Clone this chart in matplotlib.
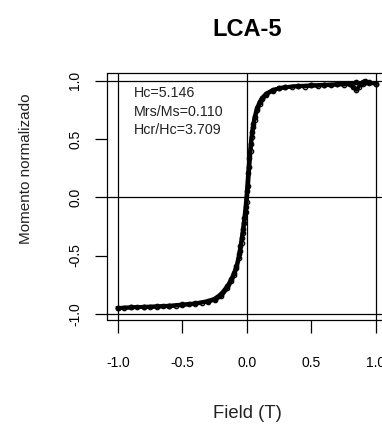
import matplotlib
matplotlib.use("Agg")
import matplotlib.pyplot as plt

plt.rcParams['font.family'] = ['Liberation Sans', 'DejaVu Sans']

# lazo de histeresis normalizado
field_up = [-1.0, -0.95, -0.9, -0.85, -0.8, -0.75, -0.7, -0.65, -0.6, -0.55, -0.5, -0.45,
            -0.4, -0.35, -0.3, -0.25, -0.2, -0.15, -0.12, -0.1,
            -0.08, -0.06, -0.05, -0.04, -0.03, -0.02, -0.01, 0.0, 0.01, 0.02, 0.03, 0.04,
            0.05, 0.06, 0.08, 0.1, 0.12, 0.15, 0.2, 0.25, 0.3, 0.4, 0.5, 0.6, 0.7, 0.8,
            0.85, 0.9, 0.95, 1.0]
mom_up = [-0.95, -0.948, -0.945, -0.942, -0.94, -0.942, -0.94, -0.937, -0.935, -0.93, -0.925,
          -0.92, -0.915, -0.905, -0.895, -0.88, -0.85, -0.78,
          -0.72, -0.67, -0.61, -0.52, -0.46, -0.39, -0.31, -0.22, -0.13, -0.04, 0.10, 0.26,
          0.40, 0.52, 0.60, 0.66, 0.75, 0.80, 0.84, 0.88, 0.915, 0.935, 0.945, 0.955, 0.96,
          0.965, 0.97, 0.975, 0.985, 0.97, 0.98, 0.975]

field_down = [1.0, 0.95, 0.92, 0.9, 0.87, 0.85, 0.82, 0.8, 0.75, 0.7, 0.65, 0.6, 0.55, 0.5,
              0.45, 0.4, 0.35, 0.3, 0.25, 0.2, 0.15,
              0.12, 0.1, 0.08, 0.06, 0.05, 0.04, 0.03, 0.02, 0.01, 0.0, -0.01, -0.02, -0.03,
              -0.04, -0.05, -0.06, -0.08, -0.1, -0.12, -0.15, -0.2, -0.25, -0.3, -0.4, -0.5,
              -0.6, -0.7, -0.8, -0.9, -1.0]
mom_down = [0.975, 0.985, 0.995, 0.99, 0.95, 0.92, 0.95, 0.97, 0.965, 0.97, 0.96, 0.965,
            0.955, 0.96, 0.95, 0.955, 0.948, 0.945, 0.935,
            0.92, 0.89, 0.855, 0.82, 0.77, 0.69, 0.63, 0.56, 0.46, 0.34, 0.21, 0.05, -0.08,
            -0.18, -0.27, -0.35, -0.42, -0.49, -0.59, -0.65, -0.70, -0.76, -0.83, -0.87, -0.89,
            -0.91, -0.92, -0.93, -0.935, -0.94, -0.945, -0.95]

xticks = [-1.0, -0.5, 0.0, 0.5, 1.0]
yticks = [-1.0, -0.5, 0.0, 0.5, 1.0]
stats = ["Hc=5.146", "Mrs/Ms=0.110", "Hcr/Hc=3.709"]

W, H = 382, 425
fig = plt.figure(figsize=(W / 100, H / 100), dpi=100)
# el recuadro se sale por la derecha como en la imagen original
ax = fig.add_axes([107.5 / W, (H - 320) / H, 278.6 / W, 247 / H])

for h in [-1, 0, 1]:
    ax.axhline(h, color='black', lw=0.9, zorder=1)
    ax.axvline(h, color='black', lw=0.9, zorder=1)

for f, m in [(field_up, mom_up), (field_down, mom_down)]:
    ax.plot(f, m, color='black', lw=2.8, zorder=2)
    ax.plot(f, m, 'o', mfc='none', mec='black', ms=3.2, mew=0.9, zorder=3)

ax.set_xlim(-1.08, 1.08)
ax.set_ylim(-1.053, 1.066)
ax.set_xticks(xticks)
ax.set_xticklabels(["%.1f" % t for t in xticks])
ax.set_yticks(yticks)
ax.set_yticklabels(["%.1f" % t for t in yticks], rotation=90, va='center')
ax.tick_params(axis='x', length=9, width=0.9, labelsize=10, pad=17, colors='black')
ax.tick_params(axis='y', length=9, width=0.9, labelsize=10, pad=9, colors='black')
for s in ax.spines.values():
    s.set_linewidth(0.9)

for i, s in enumerate(stats):
    fig.text(134 / W, 1 - (97 + i * 18.5) / H, s, fontsize=10.3, color='#222222',
             ha='left', va='baseline')

fig.text(247.5 / W, 1 - 30 / H, "LCA-5", fontsize=17, fontweight='bold',
         ha='center', va='center')
fig.text(247 / W, 1 - 413 / H, "Field (T)", fontsize=13.3, ha='center', va='center',
         color='#222222')
fig.text(26 / W, 1 - 169 / H, "Momento normalizado", fontsize=11, rotation=90,
         ha='center', va='center', color='#222222')

fig.savefig("out.png", dpi=100)
